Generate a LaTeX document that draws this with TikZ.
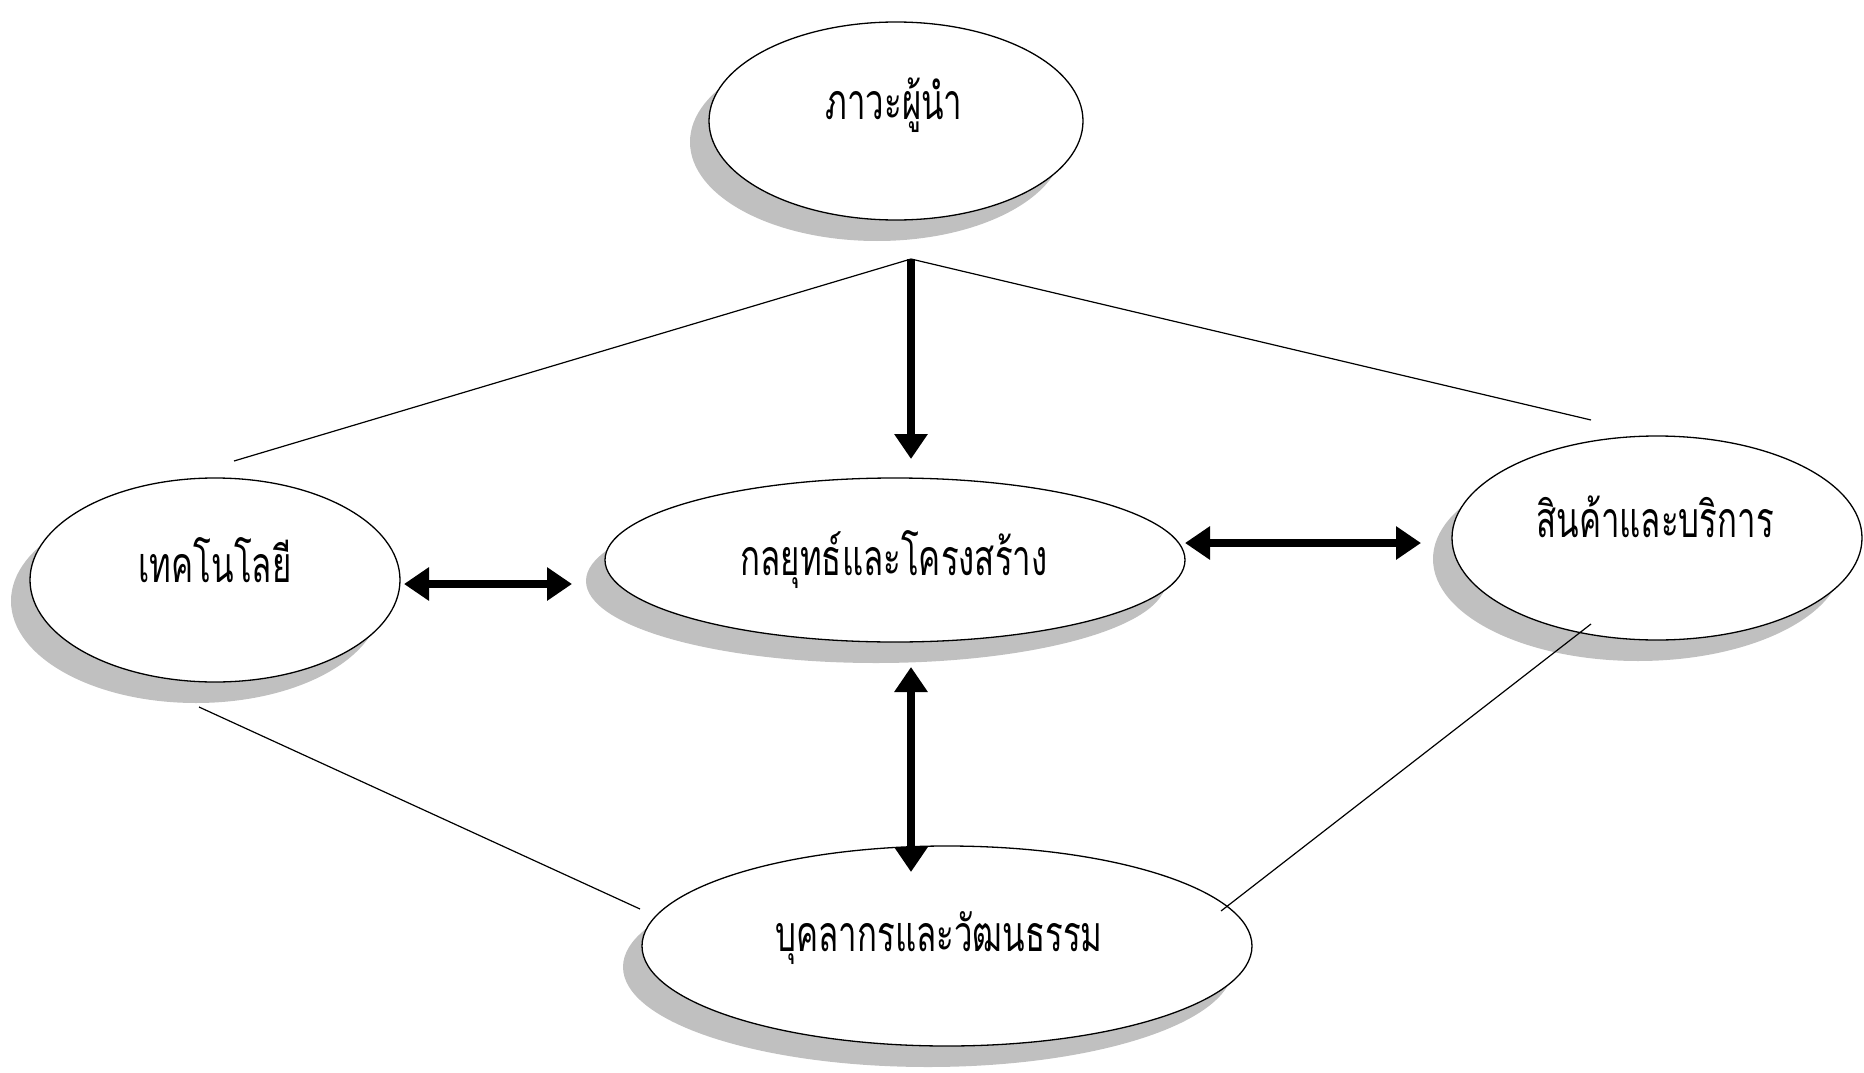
\documentclass[tikz,border=0pt]{standalone}
\usepackage{fontspec}
\newfontfamily\thaifont[Script=Thai,FakeStretch=0.66]{Loma}
\usetikzlibrary{shapes.geometric,shadows,arrows.meta}
\definecolor{shadowgray}{RGB}{192,192,192}
\tikzset{
  bubble/.style={ellipse, draw=black, line width=1.3pt, fill=white, inner sep=0pt,
    drop shadow={shadow xshift=-19pt, shadow yshift=-21pt, fill=shadowgray, opacity=1}},
  label text/.style={anchor=base, inner sep=0pt, font=\thaifont\fontsize{50}{60}\selectfont},
  thin link/.style={line width=1.2pt, black},
  big arrow/.style={line width=8pt, {Triangle[length=25pt,width=32pt]}-{Triangle[length=25pt,width=32pt]}},
  down arrow/.style={line width=8pt, -{Triangle[length=25pt,width=32pt]}},
}
\begin{document}
\begin{tikzpicture}[x=1pt,y=-1pt]
\useasboundingbox (0,0) rectangle (1864,1073);
% ellipses
\node[bubble, minimum width=374pt, minimum height=198pt] (lead) at (896,121) {};
\node[bubble, minimum width=370pt, minimum height=204pt] (tech) at (215,580) {};
\node[bubble, minimum width=580pt, minimum height=164pt] (strat) at (895,560) {};
\node[bubble, minimum width=410pt, minimum height=204pt] (prod) at (1657,538) {};
\node[bubble, minimum width=610pt, minimum height=200pt] (people) at (947,946) {};
% texts
\node[label text] (tlead) at (894,119) {ภาวะผู้นำ};
\node[label text] (ttech) at (215,582) {เทคโนโลยี};
\node[label text] (tstrat) at (894,575) {กลยุทธ์และโครงสร้าง};
\node[label text] (tprod) at (1655,537) {สินค้าและบริการ};
\node[label text] (tpeople) at (939,951) {บุคลากรและวัฒนธรรม};
% connector points
\coordinate (apex) at (911,259);
\coordinate (lineL) at (234,461);
\coordinate (lineR) at (1591,420);
\coordinate (techlow) at (199,707);
\coordinate (peopleL) at (640,909);
\coordinate (prodlow) at (1591,624);
\coordinate (peopleR) at (1221,911);
\coordinate (downtip) at (911,459);
\coordinate (aL1) at (404,584);
\coordinate (aL2) at (572,584);
\coordinate (aR1) at (1185,543);
\coordinate (aR2) at (1421,543);
\coordinate (aV1) at (911,667);
\coordinate (aV2) at (911,872);
% thin lines
\draw[thin link] (lineL) -- (apex) -- (lineR);
\draw[thin link] (techlow) -- (peopleL);
\draw[thin link] (prodlow) -- (peopleR);
% arrows
\draw[down arrow] (apex) -- (downtip);
\draw[big arrow] (aL1) -- (aL2);
\draw[big arrow] (aR1) -- (aR2);
\draw[big arrow] (aV1) -- (aV2);
\end{tikzpicture}
\end{document}
